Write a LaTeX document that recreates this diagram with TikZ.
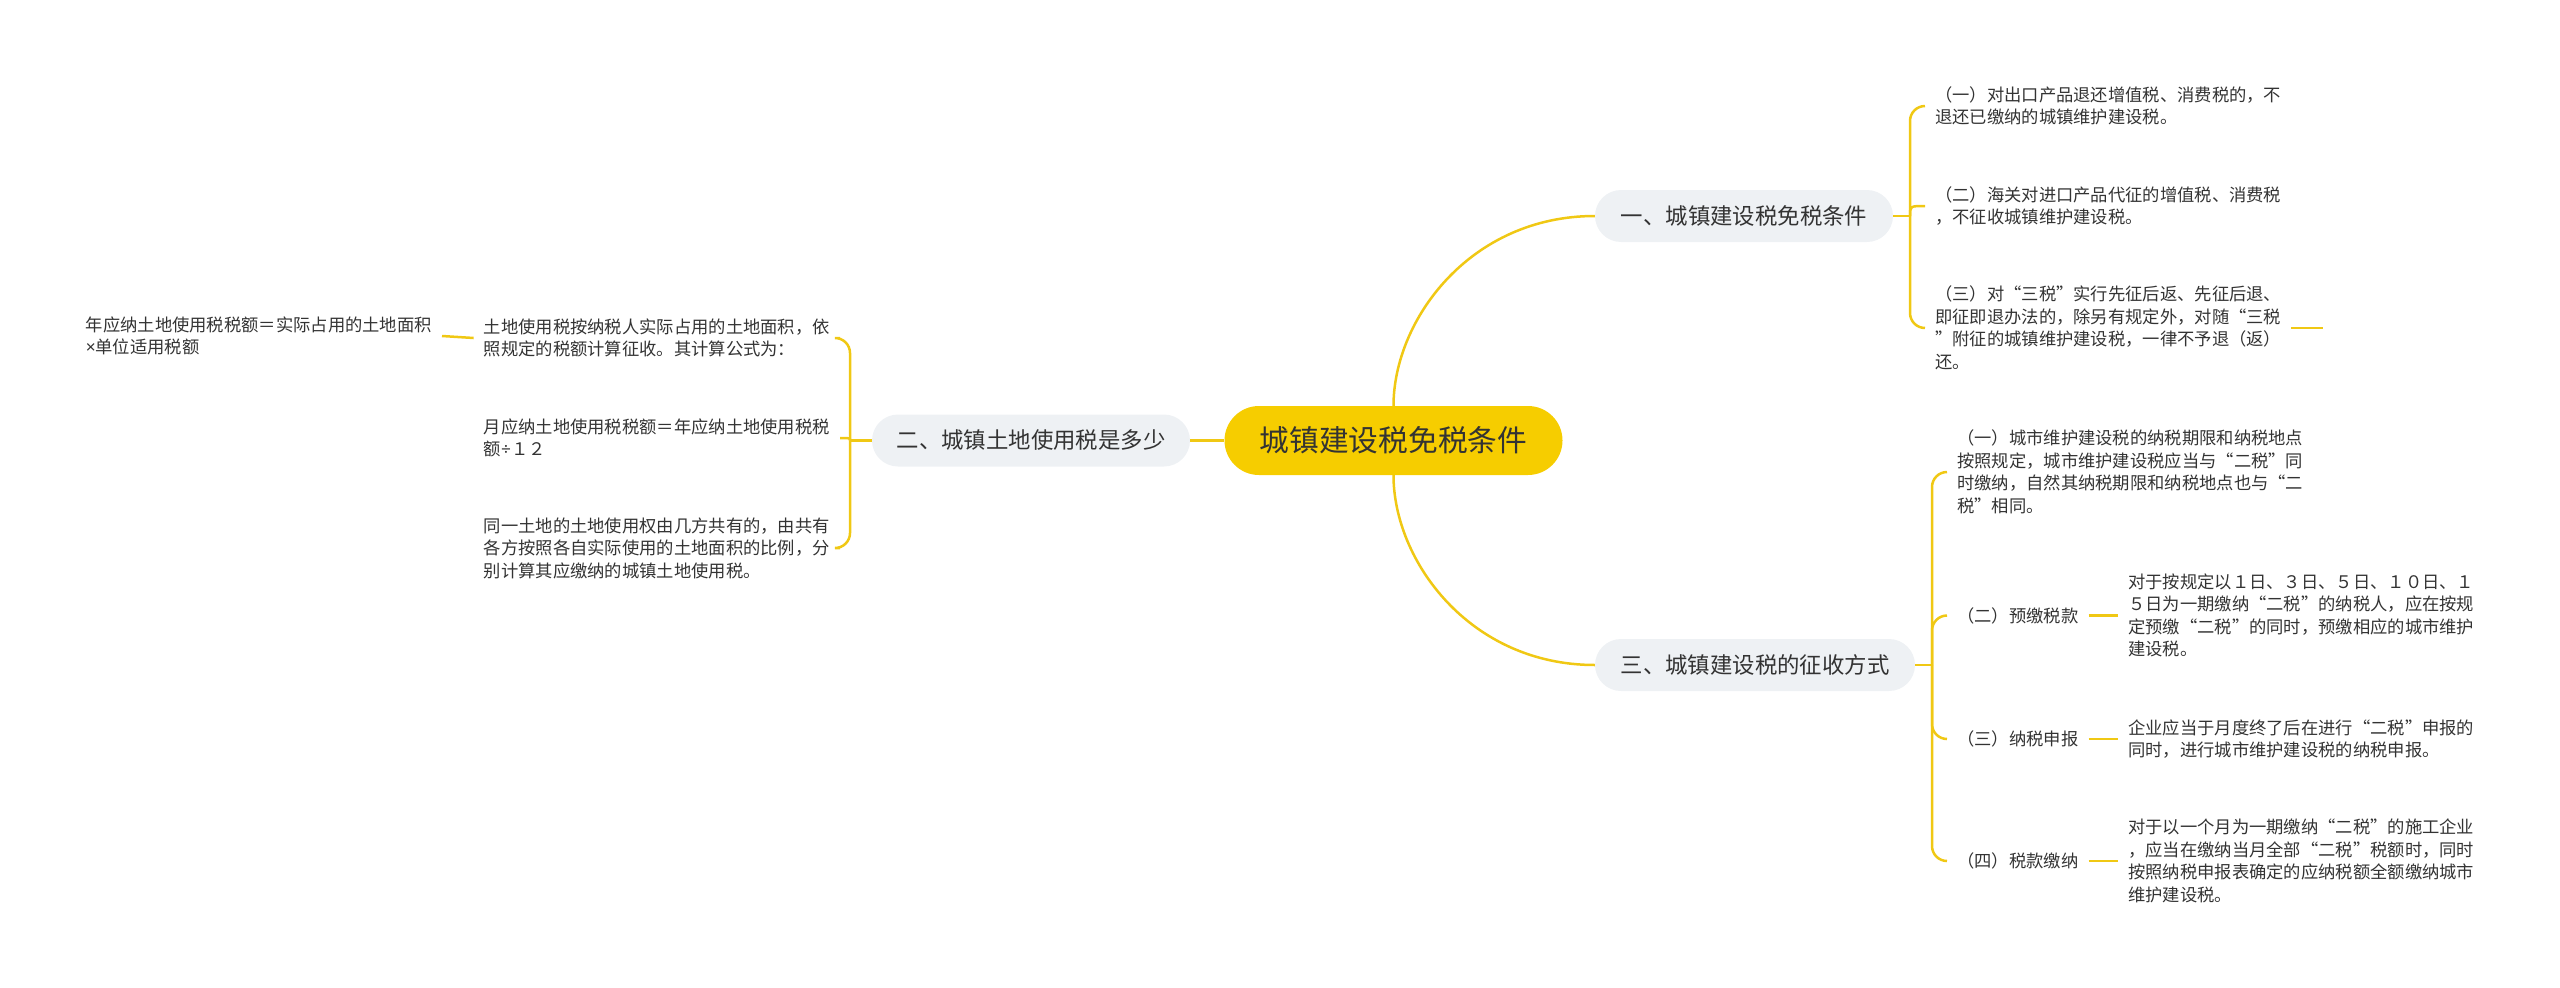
\documentclass[tikz,border=0pt]{standalone}
\usepackage{fontspec}
\setmainfont{Noto Sans CJK SC}
\newfontfamily\latinf{Noto Sans}
\definecolor{rootfill}{RGB}{246,205,0}
\definecolor{linec}{RGB}{240,200,20}
\definecolor{pillc}{RGB}{238,241,244}
\definecolor{textc}{RGB}{51,51,51}
\begin{document}
\begin{tikzpicture}[x=1pt,y=-1pt,
  conn/.style={draw=linec, line width=2.5pt},
  pill/.style={fill=pillc, rounded corners=26pt, minimum height=52pt, inner sep=0pt, font=\fontsize{22.4}{26}\selectfont, text=textc},
  rootnode/.style={fill=rootfill, rounded corners=34.5pt, minimum height=69pt, minimum width=338pt, inner sep=0pt, font=\fontsize{29.7}{34}\selectfont, text=textc},
  leaf/.style={inner xsep=10pt, inner ysep=0pt, align=left, font=\fontsize{17.3}{22.5}\selectfont, text=textc}]
\useasboundingbox (0,0) rectangle (2560,988);

% main nodes
\node[rootnode] (root) at (1393.5,440.5) {城镇建设税免税条件};
\node[pill, minimum width=298pt] (b1) at (1744,216) {一、城镇建设税免税条件};
\node[pill, minimum width=318pt] (b2) at (1031,440.5) {二、城镇土地使用税是多少};
\node[pill, minimum width=320pt] (b3) at (1755,665) {三、城镇建设税的征收方式};

% group 1
\node[leaf, anchor=west] (a1) at (1925,106) {（一）对出口产品退还增值税、消费税的，不\\退还已缴纳的城镇维护建设税。};
\node[leaf, anchor=west] (a2) at (1925,206) {（二）海关对进口产品代征的增值税、消费税\\，不征收城镇维护建设税。};
\node[leaf, anchor=west] (a3) at (1925,328) {（三）对“三税”实行先征后返、先征后退、\\即征即退办法的，除另有规定外，对随“三税\\”附征的城镇维护建设税，一律不予退（返）\\还。};

% group 3
\node[leaf, anchor=west] (c1) at (1947,472) {（一）城市维护建设税的纳税期限和纳税地点\\按照规定，城市维护建设税应当与“二税”同\\时缴纳，自然其纳税期限和纳税地点也与“二\\税”相同。};
\node[leaf, anchor=west] (c2) at (1947,615.5) {（二）预缴税款};
\node[leaf, anchor=west] (d2) at (2118,615.5) {对于按规定以１日、３日、５日、１０日、１\\５日为一期缴纳“二税”的纳税人，应在按规\\定预缴“二税”的同时，预缴相应的城市维护\\建设税。};
\node[leaf, anchor=west] (c3) at (1947,739) {（三）纳税申报};
\node[leaf, anchor=west] (d3) at (2118,739) {企业应当于月度终了后在进行“二税”申报的\\同时，进行城市维护建设税的纳税申报。};
\node[leaf, anchor=west] (c4) at (1947,861) {（四）税款缴纳};
\node[leaf, anchor=west] (d4) at (2118,861) {对于以一个月为一期缴纳“二税”的施工企业\\，应当在缴纳当月全部“二税”税额时，同时\\按照纳税申报表确定的应纳税额全额缴纳城市\\维护建设税。};

% group 2 (left)
\node[leaf, anchor=east] (l1) at (840,338) {土地使用税按纳税人实际占用的土地面积，依\\照规定的税额计算征收。其计算公式为：};
\node[leaf, anchor=east] (l2) at (840,438) {月应纳土地使用税税额＝年应纳土地使用税税\\额{\latinf ÷}１２};
\node[leaf, anchor=east] (l3) at (840,548) {同一土地的土地使用权由几方共有的，由共有\\各方按照各自实际使用的土地面积的比例，分\\别计算其应缴纳的城镇土地使用税。};
\node[leaf, anchor=east] (g1) at (442,336) {年应纳土地使用税税额＝实际占用的土地面积\\{\latinf ×}单位适用税额};

% root connectors
\draw[conn] (root.north) .. controls (1393.5,320) and (1470,216) .. (b1.west);
\draw[conn] (root.south) .. controls (1393.5,561) and (1470,665) .. (b3.west);
\draw[conn] (root.west) -- (b2.east);

% bracket group 1
\coordinate (j1) at (1910,216);
\draw[conn] (b1.east) -- (j1);
\draw[conn, rounded corners=15pt] (j1) |- (a1.west);
\draw[conn] (j1) .. controls (1910,206) .. (a2.west);
\draw[conn, rounded corners=15pt] (j1) |- (a3.west);
\coordinate (s1) at (2323,328);
\draw[conn] (a3.east) -- (s1);

% bracket group 3
\coordinate (j3) at (1932,665);
\draw[conn] (b3.east) -- (j3);
\draw[conn, rounded corners=15pt] (j3) |- (c1.west);
\draw[conn, rounded corners=15pt] (j3) |- (c2.west);
\draw[conn, rounded corners=15pt] (j3) |- (c3.west);
\draw[conn, rounded corners=15pt] (j3) |- (c4.west);
\draw[conn] (c2.east) -- (d2.west);
\draw[conn] (c3.east) -- (d3.west);
\draw[conn] (c4.east) -- (d4.west);

% bracket group 2
\coordinate (j2) at (850,440.5);
\draw[conn] (b2.west) -- (j2);
\draw[conn, rounded corners=15pt] (j2) |- (l1.east);
\draw[conn] (j2) .. controls (850,438) .. (l2.east);
\draw[conn, rounded corners=15pt] (j2) |- (l3.east);
\draw[conn] (g1.east) -- (l1.west);
\end{tikzpicture}
\end{document}
